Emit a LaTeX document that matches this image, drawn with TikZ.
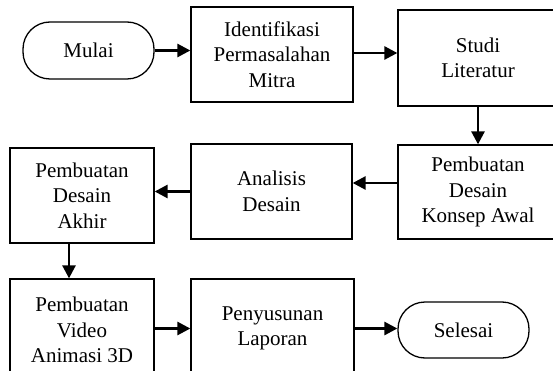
\documentclass[tikz,border=0pt]{standalone}
\usepackage{fontspec}
\setmainfont{Liberation Serif}
\usetikzlibrary{arrows.meta}
\tikzset{
  box/.style={draw, line width=1.3pt, align=center, inner sep=0pt,
    font=\fontsize{21}{25.5}\selectfont},
  term/.style={box, rounded corners=27pt},
  flow/.style={line width=2.7pt, -{Triangle[length=13pt,width=13pt]}}
}
\begin{document}
\begin{tikzpicture}[x=1pt,y=-1pt]
\useasboundingbox (0,0) rectangle (553,371);
\clip (0,0) rectangle (553,371);
\node[term, minimum width=131pt, minimum height=57pt] (mulai) at (88.5,50.5) {Mulai};
\node[box, minimum width=162pt, minimum height=95pt] (ident) at (272,54.5) {Identifikasi\\Permasalahan\\Mitra};
\node[box, minimum width=160pt, minimum height=96pt] (studi) at (478,58) {Studi\\Literatur};
\node[box, minimum width=160pt, minimum height=94pt] (konsep) at (478,192) {Pembuatan\\Desain\\Konsep Awal};
\node[box, minimum width=161pt, minimum height=95pt] (analisis) at (271.5,191.5) {Analisis\\Desain};
\node[box, minimum width=144pt, minimum height=95pt] (akhir) at (82,195.5) {Pembuatan\\Desain\\Akhir};
\node[box, minimum width=144pt, minimum height=102pt] (video) at (82,330) {Pembuatan\\Video\\Animasi 3D};
\node[box, minimum width=163pt, minimum height=99pt] (susun) at (272.5,328.5) {Penyusunan\\Laporan};
\node[term, minimum width=131pt, minimum height=56pt] (selesai) at (463.5,330) {Selesai};
\draw[flow] (mulai.east) -- (mulai.east -| ident.west);
\draw[flow] ([yshift=1.5pt]ident.east) -- ([yshift=1.5pt]ident.east -| studi.west);
\draw[flow] (studi.south) -- (konsep.north);
\draw[flow] ([yshift=9pt]konsep.west) -- ([yshift=9pt]konsep.west -| analisis.east);
\draw[flow] (analisis.west) -- (analisis.west -| akhir.east);
\draw[flow] ([xshift=-13pt]akhir.south) -- ([xshift=-13pt]akhir.south |- video.north);
\draw[flow] (susun.west -| video.east) -- (susun.west);
\draw[flow] (susun.east) -- (susun.east -| selesai.west);
\end{tikzpicture}
\end{document}
